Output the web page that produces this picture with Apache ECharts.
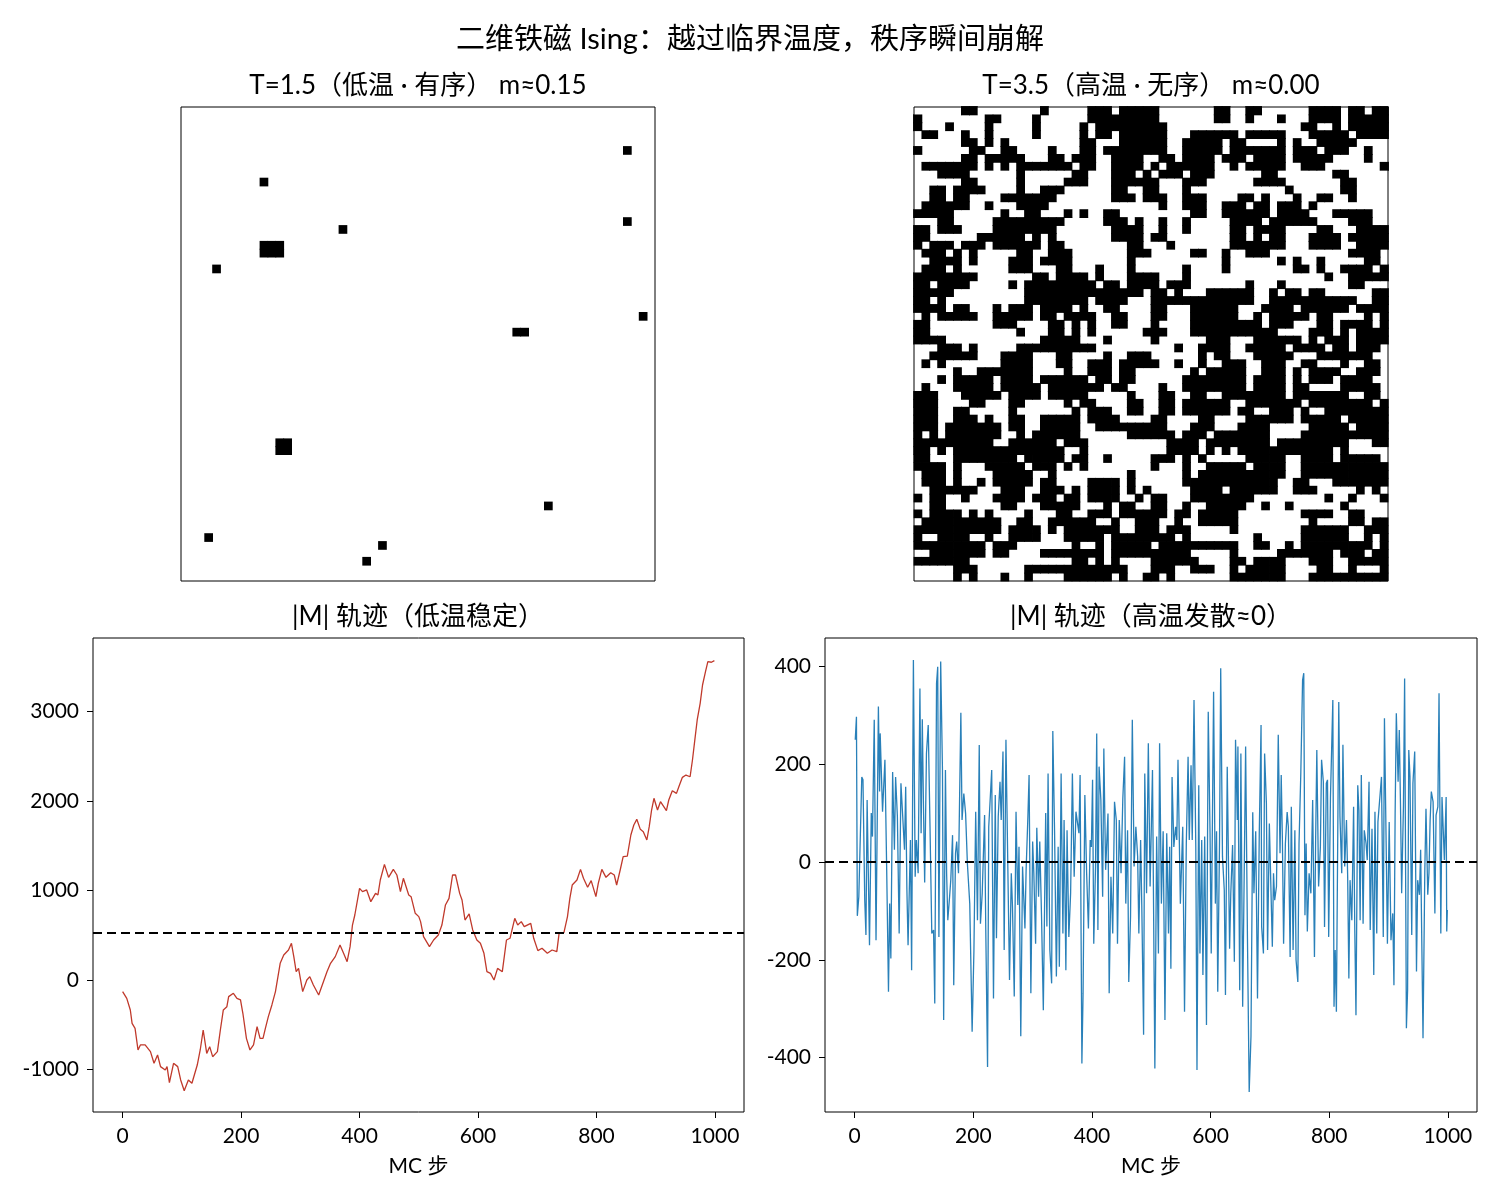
<!DOCTYPE html>
<html><head><meta charset="utf-8">
<script src="https://cdn.jsdelivr.net/npm/echarts@6/dist/echarts.min.js"></script>
<style>html,body{margin:0;padding:0;background:#fff}#c{width:1500px;height:1200px}</style>
</head><body><div id="c"></div>
<script>
// ---------------- data ----------------
const N = 60;
// T=1.5 lattice: cells with spin down (black), [row, col]
const lowDownCells = [[5,56],[9,10],[14,56],[15,20],[17,10],[17,11],[17,12],[18,10],[18,11],[18,12],[20,4],[26,58],[28,42],[28,43],[42,12],[42,13],[43,12],[43,13],[50,46],[54,3],[55,25],[57,23]];
// T=3.5 lattice rows, '1' = spin down (black), '0' = spin up (white)
const highRows = [
"000000110000000010000011101111"+"100000001100110000001111011011",
"100000000110000100000011111111"+"100000001100100010001111011111",
"100010000100000100000101111111"+"110000000000000000011001011111",
"011000100100000100000101101111"+"110001111110111110001111101111",
"000000110101000000000110001111"+"110011111011000010100111110000",
"100000011001100001000110111111"+"110011111011111110111011100100",
"000000110111110001101110011110"+"011011110111011110111110000100",
"011111110101011111110110011110"+"101111110010111110011100000001",
"000111100000010000001100011101"+"011101110000001100000001100000",
"000000110000010000011100011111"+"100011100000011110000000110000",
"001101111000010011100000011001"+"100010000000000001000000110000",
"001101100001111111000000011101"+"110011100001101000100110010000",
"011111100100011110000000000000"+"010011100111011011101000000000",
"111110000001001100010100110000"+"000001100111111011110001111100",
"000110000011111111100000111010"+"010010000011110111111000011100",
"110111000011111111000000011110"+"010010000011011110000110001111",
"110000001111110101000000011110"+"110000000011010110001111011111",
"101110111011111101100000000110"+"001000000011111110001111001111",
"011101010000011001110000000111"+"000001100100111000000000011110",
"001111010000111011110000000100"+"000000000100000010100100000110",
"011101000000111000110001000100"+"000010000100000000110100111101",
"111111110000000110111101000111"+"100010000000000000000010011111",
"110111100000101111111110110111"+"101110000000100010000000011000",
"111110000000001111111111111110"+"110100011111100101101100000011",
"110100000000001111111101111000"+"111111111111100111111111110011",
"111101100010111011110100110000"+"110001111110001111011111101111",
"010111110011111011011110011000"+"110001111110010111110110000101",
"110000000011100001101010011000"+"100001111111110111000110111101",
"110000000000010001101010000001"+"110001111111111100001110101111",
"111100000000000011111000100000"+"100000011100011111101011101111",
"000111010000011111111110000000"+"000100111100111110111101101110",
"001111110001111000110000100111"+"000000101100011111000111111100",
"010100000001111000110011101111"+"100100100111001110011000100110",
"000001001111111000010011101100"+"000001011111001110101111001110",
"000101111101111011111101101100"+"000011111111011110101110111100",
"010001111101111101111111011000"+"010011111111011110110000111110",
"111000111110111101111100000100"+"011001100111111110111111100110",
"111000011000110000010110000110"+"011011111100111111101111111101",
"111001100000100000001011100110"+"011011111101100111010011111111",
"111001110100110011111011110000"+"110000110000111111011111011111",
"111011111110110011111001111111"+"110001110001111000001111101111",
"101011111110010111111000000111"+"111011101111111000011111111111",
"111111111100111111011100000000"+"001111011111111011111111100011",
"110101111111111111100100000000"+"001111010101111111111110100000",
"110001111111101111101100100000"+"111010100000111110011110111110",
"111101000111110111010100000000"+"100010011111011110011111111111",
"011101000011111001000000000100"+"000010111111111110011111111111",
"011101001011111011000011110100"+"000011111111111100110001111111",
"001111110001110011101011110101"+"000001111011111100111000001010",
"101100100011110111011011110010"+"110001111111100000000010010001",
"001100000001100011111000101100"+"110010011111001001000000100000",
"101111010100001000110011101111"+"110110111110000000011110011000",
"011111111110011001111110010011"+"100100111110000000001000011011",
"111111111110111101011111110011"+"101110000010000000011111100111",
"100111100100111100011111011111"+"111010000000010000011111100101",
"111111111011100000001001011111"+"011111111110011001011111111101",
"001111111011000011111111011111"+"111110000010000011111110111011",
"111111100000000000001101010000"+"111111000011011110001110011111",
"000001110000001111111111111000"+"111001110010111110000110010001",
"000001010001001000011111101001"+"101000000011111110001111111111"
];
// |M| trace at low temperature: [MC step, M]
const lowTrace = [[0,-130],[7,-205],[13,-335],[16,-484],[21,-540],[26,-782],[30,-726],[38,-726],[47,-801],[53,-931],[59,-838],[64,-968],[72,-1005],[75,-968],[79,-1147],[86,-931],[93,-968],[98,-1117],[104,-1237],[111,-1117],[117,-1154],[126,-950],[131,-782],[136,-559],[142,-820],[147,-745],[152,-857],[160,-801],[165,-559],[170,-335],[176,-298],[179,-186],[187,-149],[193,-205],[199,-223],[203,-372],[209,-652],[215,-782],[221,-726],[227,-521],[232,-652],[237,-652],[241,-540],[246,-410],[252,-279],[258,-130],[266,186],[272,279],[280,335],[285,410],[289,261],[293,93],[297,130],[304,-130],[311,0],[316,37],[322,-56],[331,-168],[339,-19],[345,93],[351,186],[359,261],[367,391],[373,298],[379,205],[384,372],[388,614],[392,726],[400,1024],[405,987],[412,1006],[419,875],[427,968],[431,950],[435,1117],[442,1292],[449,1147],[457,1236],[463,1173],[469,987],[474,1136],[483,950],[487,931],[494,745],[500,708],[503,652],[508,484],[518,372],[525,447],[533,503],[539,614],[545,838],[551,912],[557,1173],[562,1173],[569,968],[573,894],[578,670],[585,738],[591,559],[598,447],[604,410],[610,298],[615,93],[621,74],[627,0],[633,130],[641,93],[648,447],[654,466],[662,689],[667,614],[673,652],[678,596],[689,633],[694,466],[701,328],[708,354],[717,298],[725,335],[733,317],[737,529],[745,529],[751,708],[755,912],[759,1061],[767,1117],[773,1236],[778,1136],[785,1036],[791,1110],[799,931],[803,1080],[809,1236],[816,1147],[824,1199],[830,1173],[834,1061],[840,1229],[845,1378],[852,1385],[858,1620],[863,1732],[868,1795],[874,1683],[879,1657],[885,1564],[889,1713],[893,1899],[897,2030],[903,1899],[908,1992],[918,1892],[922,2011],[928,2115],[935,2085],[939,2160],[945,2264],[951,2290],[958,2271],[962,2458],[966,2682],[970,2905],[975,3091],[979,3296],[984,3445],[988,3557],[994,3550],[999,3568]];
const lowMean = 525;
// |M| trace at high temperature: [MC step, M]
const highTrace = [[1,250],[3,297],[4.5,-110],[7,-71],[12,174],[14,168],[17,-78],[19,-149],[21,127],[25,-170],[28,100],[30,52],[33,291],[36,-160],[40,318],[42,144],[43,263],[47,103],[51,209],[54,-17],[57,-265],[59,-85],[61,-197],[64,184],[67,25],[69,174],[72,93],[75,-146],[78,161],[81,164],[84,25],[86,154],[88,-54],[90,-170],[94,45],[96,-221],[99,413],[102,-30],[104,45],[107,-23],[110,355],[112,59],[114,292],[116,113],[118,-42],[121,222],[124,280],[127,72],[130,-146],[133,-139],[135,-289],[138,365],[140,399],[142,-153],[145,410],[148,188],[150,-323],[153,188],[155,-23],[157,-119],[160,-71],[162,-37],[165,55],[167,-252],[170,18],[172,42],[175,-23],[179,305],[181,86],[184,140],[187,99],[190,-3],[194,-85],[198,-347],[201,-183],[204,103],[207,-119],[210,239],[212,-126],[215,-64],[219,96],[221,-139],[224,-419],[226,72],[229,72],[231,188],[234,-279],[237,137],[239,-156],[242,93],[245,164],[247,86],[250,226],[252,-180],[255,250],[258,4],[261,-241],[264,-23],[266,-91],[269,-275],[272,103],[275,-88],[277,31],[280,-356],[283,-9],[287,-136],[289,-16],[292,93],[294,178],[297,-268],[300,42],[302,-23],[305,-167],[307,70],[310,-71],[312,42],[315,-112],[318,-303],[322,100],[324,-132],[326,181],[329,-180],[332,-248],[334,268],[337,59],[340,-234],[343,31],[345,-214],[348,181],[351,-146],[353,86],[356,-221],[358,65],[361,-153],[364,-64],[367,181],[370,-30],[373,103],[376,106],[378,59],[380,178],[383,-412],[385,-268],[388,137],[391,-23],[394,-136],[397,45],[399,31],[401,168],[403,-167],[406,-9],[408,263],[410,-139],[412,195],[415,127],[418,-71],[420,232],[423,-16],[427,99],[429,-268],[432,-30],[435,-146],[438,123],[441,86],[443,-167],[446,86],[449,-23],[452,130],[455,215],[457,-85],[460,65],[462,-245],[465,-112],[468,291],[471,-9],[474,72],[477,11],[479,-146],[482,45],[484,-91],[487,-353],[489,181],[492,-64],[495,243],[498,-50],
[502,188],[506,-422],[509,52],[512,-187],[514,243],[517,-85],[520,63],[523,-323],[526,59],[529,-146],[531,31],[533,-218],[535,174],[538,31],[541,72],[543,45],[545,209],[549,-85],[553,72],[556,-306],[559,38],[562,215],[564,45],[567,198],[569,45],[572,331],[575,31],[577,-425],[580,157],[582,-187],[585,45],[587,-231],[590,52],[593,-333],[596,307],[599,60],[601,-187],[605,348],[608,-85],[610,63],[612,-265],[615,41],[617,396],[620,11],[623,-57],[625,-272],[628,195],[632,-177],[634,-64],[637,35],[640,-204],[642,250],[645,86],[646,236],[649,-262],[651,222],[654,-296],[657,18],[659,236],[662,-146],[665,-470],[668,-357],[671,102],[673,-64],[676,63],[679,-279],[682,59],[685,280],[686,-132],[689,-187],[691,222],[694,120],[696,-180],[699,79],[701,82],[704,-173],[706,-23],[708,-78],[711,-50],[714,260],[717,18],[719,178],[721,45],[723,-167],[726,38],[729,102],[731,72],[734,-194],[736,113],[739,-180],[742,65],[744,-200],[747,-245],[749,38],[752,181],[755,372],[757,386],[759,-109],[761,38],[763,-142],[766,-23],[769,-64],[772,127],[775,-194],[777,45],[779,229],[782,-50],[785,31],[787,209],[790,164],[792,-133],[795,161],[797,168],[799,-153],[802,133],[804,137],[806,331],[808,-296],[810,-180],[812,-306],[816,327],[818,93],[821,-23],[823,240],[826,-9],[829,86],[831,-30],[833,-238],[835,-37],[838,-119],[841,113],[843,-139],[845,-313],[848,157],[850,106],[852,-119],[854,178],[857,-126],[859,65],[862,38],[864,4],[867,164],[869,-139],[872,68],[875,-231],[877,103],[880,-146],[882,82],[885,86],[888,174],[891,-153],[893,294],[896,25],[898,-167],[901,82],[904,-160],[907,-105],[909,-252],[911,99],[913,304],[916,164],[918,270],[920,120],[922,-64],[925,113],[927,375],[930,-340],[932,-262],[934,229],[936,175],[939,-149],[941,161],[944,226],[947,-224],[949,-37],[952,-67],[954,25],[958,-360],[961,-20],[963,109],[966,-67],[968,-23],[970,86],[972,144],[975,123],[978,-105],[980,96],[983,113],[985,345],[988,-146],[990,133],[992,133],[994,4],[997,133],[998,-142],[999,-98]];
const highMean = 0;
const stepTicks = [0,200,400,600,800,1000];
const lowTicks = [-1000,0,1000,2000,3000];
const highTicks = [-400,-200,0,200,400];
const texts = {
  main: '二维铁磁 Ising：越过临界温度，秩序瞬间崩解',
  low: 'T=1.5（低温 · 有序） m≈0.15',
  high: 'T=3.5（高温 · 无序） m≈0.00',
  lowTrace: '|M| 轨迹（低温稳定）',
  highTrace: '|M| 轨迹（高温发散≈0）',
  xName: 'MC 步'
};

// ---------------- build ----------------
const FF = "Lato, 'Noto Sans CJK SC', sans-serif";
const cats = Array.from({length: N}, (_, i) => i);

function lowRows() {
  const rows = Array.from({length: N}, () => Array(N).fill('0'));
  lowDownCells.forEach(([r, c]) => { rows[r][c] = '1'; });
  return rows.map(r => r.join(''));
}
function latticeData(rows) {
  const up = [], down = [];
  rows.forEach((row, r) => {
    for (let c = 0; c < row.length; c++) {
      if (row[c] === '1') down.push([c, r, -1]); else up.push([c, r, 1]);
    }
  });
  return up.concat(down);
}
function renderSpin(params, api) {
  const s = api.value(2);
  const p = api.coord([api.value(0), api.value(1)]);
  const sz = api.size([1, 1]);
  const pad = s < 0 ? 0.4 : 0;
  return {
    type: 'rect',
    shape: {x: p[0] - sz[0] / 2 - pad, y: p[1] - sz[1] / 2 - pad, width: sz[0] + 2 * pad, height: sz[1] + 2 * pad},
    style: {fill: s < 0 ? '#000000' : '#ffffff'}
  };
}
const frame = {show: true, z: 10, backgroundColor: 'transparent', borderColor: '#000', borderWidth: 1};
function catAxis(gi, inv) {
  return {gridIndex: gi, type: 'category', data: cats, inverse: !!inv, show: false, boundaryGap: true};
}
function valAxis(gi, min, max, ticks, withName) {
  const a = {
    gridIndex: gi, type: 'value', min: min, max: max,
    axisLine: {show: false, onZero: false},
    splitLine: {show: false},
    axisTick: {show: true, inside: false, length: 6, lineStyle: {color: '#000', width: 1}, customValues: ticks},
    axisLabel: {customValues: ticks, color: '#000', fontSize: 21, fontFamily: FF, margin: 14, formatter: v => String(v)}
  };
  if (withName) {
    a.name = texts.xName; a.nameLocation = 'middle'; a.nameGap = 44;
    a.nameTextStyle = {color: '#000', fontSize: 21, fontFamily: FF};
  }
  return a;
}
function dashed(v) {
  return {symbol: ['none', 'none'], silent: true, label: {show: false},
    lineStyle: {color: '#000', type: [9, 5], width: 2}, data: [{yAxis: v}]};
}
function title(text, x, y, size) {
  return {type: 'text', x: x, y: y, silent: true,
    style: {text: text, fill: '#000', font: size + 'px ' + FF, textAlign: 'center', textVerticalAlign: 'middle', align: 'center', verticalAlign: 'middle'}};
}

const chart = echarts.init(document.getElementById('c'), null, {renderer: 'canvas', width: 1500, height: 1200});
chart.setOption({
  animation: false,
  backgroundColor: '#ffffff',
  textStyle: {fontFamily: FF},
  grid: [
    Object.assign({left: 181, top: 107, width: 474, height: 474}, frame),
    Object.assign({left: 914, top: 107, width: 474, height: 474}, frame),
    Object.assign({left: 93, top: 638, width: 651, height: 474}, frame),
    Object.assign({left: 825, top: 638, width: 652, height: 474}, frame)
  ],
  xAxis: [catAxis(0), catAxis(1), valAxis(2, -50, 1049, stepTicks, true), valAxis(3, -50, 1049, stepTicks, true)],
  yAxis: [catAxis(0, true), catAxis(1, true), valAxis(2, -1475, 3821, lowTicks), valAxis(3, -511, 458, highTicks)],
  graphic: [
    title(texts.main, 750, 40, 29),
    title(texts.low, 418, 86, 26),
    title(texts.high, 1151, 86, 26),
    title(texts.lowTrace, 418, 617, 26),
    title(texts.highTrace, 1151, 617, 26)
  ],
  series: [
    {type: 'custom', xAxisIndex: 0, yAxisIndex: 0, renderItem: renderSpin, data: latticeData(lowRows()), silent: true},
    {type: 'custom', xAxisIndex: 1, yAxisIndex: 1, renderItem: renderSpin, data: latticeData(highRows), silent: true},
    {type: 'line', xAxisIndex: 2, yAxisIndex: 2, data: lowTrace, showSymbol: false, symbol: 'none',
      lineStyle: {color: '#c0392b', width: 1.3}, itemStyle: {color: '#c0392b'}, markLine: dashed(lowMean), silent: true},
    {type: 'line', xAxisIndex: 3, yAxisIndex: 3, data: highTrace, showSymbol: false, symbol: 'none',
      lineStyle: {color: '#2980b9', width: 1.3}, itemStyle: {color: '#2980b9'}, markLine: dashed(highMean), silent: true}
  ]
});
</script>
</body></html>
